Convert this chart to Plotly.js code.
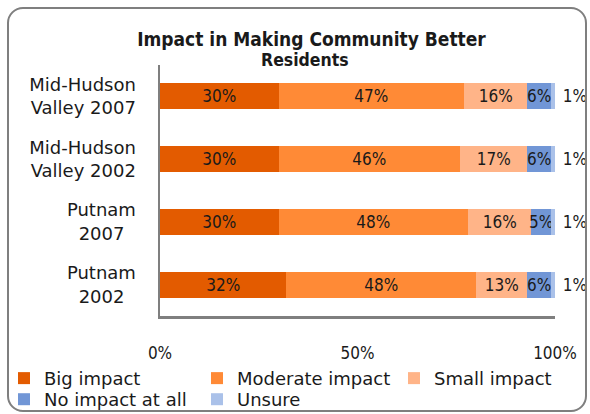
<!DOCTYPE html>
<html>
<head>
<meta charset="utf-8">
<script src="https://cdn.plot.ly/plotly-3.0.1.min.js"></script>
<style>
  html, body { margin: 0; padding: 0; background: #fff; }
  #wrap { position: relative; width: 590px; height: 414px; }
  #chart { position: absolute; left: 0; top: 0; width: 590px; height: 414px; }
  #frame { position: absolute; left: 7px; top: 7px; width: 580px; height: 405px; box-sizing: border-box;
           border: 2px solid #7f7f7f; border-radius: 16px; pointer-events: none; }
</style>
</head>
<body>
<div id="wrap">
  <div id="chart"></div>
  <div id="frame"></div>
</div>
<script>
// Categories (top to bottom)
const categories = [
  "Mid-Hudson<br>Valley 2007",
  "Mid-Hudson<br>Valley 2002",
  "Putnam<br>2007\u00a0\u00a0",
  "Putnam<br>2002\u00a0\u00a0"
];
// Series values (%)
const bigImpact      = [30, 30, 30, 32];
const moderateImpact = [47, 46, 48, 48];
const smallImpact    = [16, 17, 16, 13];
const noImpact       = [6, 6, 5, 6];
const unsure         = [1, 1, 1, 1];
const seriesNames = ["Big impact", "Moderate impact", "Small impact", "No impact at all", "Unsure"];
const xTickVals = [0, 50, 100];
const xTickText = ["0%", "50%", "100%"];
const chartTitle = "Impact in Making Community Better";
const chartSubtitle = "Residents";

const FONT_C = "DejaVu Sans Condensed, Tahoma, sans-serif";
const FONT = "DejaVu Sans, Verdana, sans-serif";
const colors = ["#e35b00", "#ff8a36", "#ffb488", "#7196d6", "#aac1e9"];
const seriesData = [bigImpact, moderateImpact, smallImpact, noImpact, unsure];
const legendOf = ["legend", "legend", "legend", "legend2", "legend2"];
const legendWidths = [148, 152, 122, 148, 80];

const traces = seriesData.map((vals, i) => {
  const isLast = i === seriesData.length - 1;
  return {
    type: "bar",
    orientation: "h",
    name: seriesNames[i],
    legend: legendOf[i],
    legendwidth: legendWidths[i],
    y: categories,
    x: vals,
    marker: { color: colors[i], line: { width: 0 } },
    text: vals.map(v => (isLast ? "\u00a0" : "") + v + "%"),
    textposition: isLast ? "outside" : "inside",
    insidetextanchor: "middle",
    textangle: 0,
    constraintext: "none",
    cliponaxis: false,
    textfont: { family: FONT_C, size: 17, color: "#1a1a1a" },
    hoverinfo: "x+name"
  };
});

const legendCommon = {
  orientation: "h",
  xanchor: "left",
  yanchor: "top",
  traceorder: "normal",
  font: { family: FONT, size: 18, color: "#1a1a1a" },
  bgcolor: "rgba(0,0,0,0)",
  tracegroupgap: 0,
  itemclick: false
};

const layout = {
  width: 590,
  height: 414,
  margin: { l: 160, r: 35, t: 65, b: 98, autoexpand: false },
  paper_bgcolor: "rgba(0,0,0,0)",
  plot_bgcolor: "rgba(0,0,0,0)",
  font: { family: FONT, size: 16, color: "#1a1a1a" },
  barmode: "stack",
  bargap: 0.586,
  uniformtext: { mode: "show", minsize: 17 },
  title: {
    text: "<b>" + chartTitle + "</b>",
    font: { family: FONT_C, size: 19, color: "#1a1a1a" },
    x: 0.3835, xref: "paper", xanchor: "center",
    y: 1 - 39 / 414, yref: "container", yanchor: "middle"
  },
  annotations: [{
    text: "<b>" + chartSubtitle + "</b>",
    xref: "paper", yref: "paper",
    x: 0.3683, y: (316 - 60) / 251,
    xanchor: "center", yanchor: "middle",
    showarrow: false,
    font: { family: FONT_C, size: 17.5, color: "#1a1a1a" }
  }],
  xaxis: {
    range: [0, 100],
    tickvals: xTickVals,
    ticktext: xTickText,
    showgrid: false,
    zeroline: false,
    showline: true,
    linecolor: "#7f7f7f",
    linewidth: 2.5,
    ticks: "",
    ticklabelstandoff: 20,
    tickfont: { family: FONT_C, size: 17, color: "#1a1a1a" },
    fixedrange: true
  },
  yaxis: {
    autorange: "reversed",
    showgrid: false,
    zeroline: false,
    showline: true,
    linecolor: "#7f7f7f",
    linewidth: 2.5,
    ticks: "",
    ticklabelstandoff: 18,
    tickfont: { family: FONT, size: 18, color: "#1a1a1a" },
    fixedrange: true
  },
  showlegend: true,
  legend: Object.assign({}, legendCommon, { x: -0.395, y: -0.175 }),
  legend2: Object.assign({}, legendCommon, { x: -0.395, y: -0.259 })
};

Plotly.newPlot("chart", traces, layout, { displayModeBar: false, staticPlot: true });
</script>
</body>
</html>
